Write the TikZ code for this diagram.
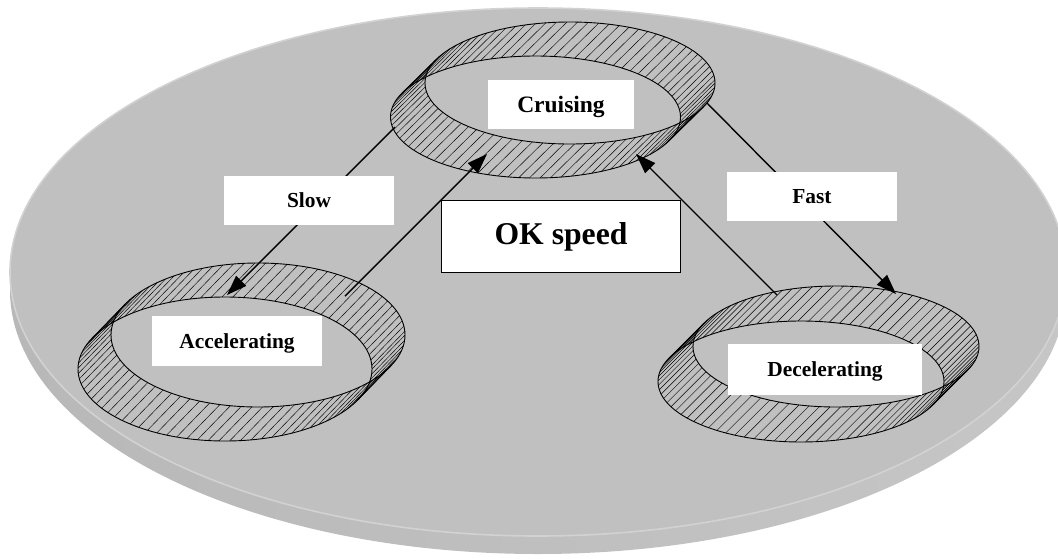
\documentclass[tikz,border=0pt]{standalone}
\usepackage{fontspec}
\setmainfont{Liberation Serif}
\usetikzlibrary{arrows.meta}
\definecolor{facegray}{HTML}{C0C0C0}
\definecolor{rimgray}{HTML}{D2D2D2}
\definecolor{sidegrayA}{HTML}{B8B8B8}
\definecolor{sidegrayB}{HTML}{A8A8A8}
\definecolor{sidegrayC}{HTML}{C6C6C6}
\newcommand{\ringshape}[6]{%
  \pgfmathsetmacro{\rtA}{atan2(-(#5)*(#4),(#3)*(#6))}%
  \foreach \t in {0,4.2,...,358}{%
    \draw[hatchline] ({#1+#3*cos(\t)},{#2+#4*sin(\t)}) -- ++(#5,#6);
  }%
  \draw[ringline] (#1,#2) ellipse [x radius=#3pt, y radius=#4pt];
  \draw[ringline] ({#1+(#5)},{#2+(#6)}) ellipse [x radius=#3pt, y radius=#4pt];
  \draw[ringline] ({#1+#3*cos(\rtA)},{#2+#4*sin(\rtA)}) -- ++(#5,#6);
  \draw[ringline] ({#1+#3*cos(\rtA+180)},{#2+#4*sin(\rtA+180)}) -- ++(#5,#6);
}
\begin{document}
\begin{tikzpicture}[x=1pt,y=-1pt,
  hatchline/.style={black, line width=0.45pt},
  ringline/.style={black, line width=0.9pt},
  arr/.style={black, line width=1.4pt, -{Triangle[length=20pt,width=14pt]}},
  lbl/.style={fill=white, inner sep=0pt, text height=14.2pt, text depth=0pt,
    font=\bfseries\fontsize{21.4}{24}\selectfont},
  okbox/.style={fill=white, draw=black, line width=1.5pt, inner sep=0pt,
    font=\bfseries\fontsize{31.7}{36}\selectfont}]
\useasboundingbox (0,0) rectangle (1058,558);
\clip (0,0) rectangle (1058,558);
% disk
\shade[left color=sidegrayA, middle color=sidegrayB, right color=sidegrayC]
  (538,290) ellipse [x radius=528pt, y radius=264pt];
\fill[facegray] (538,272) ellipse [x radius=528pt, y radius=264pt];
\draw[rimgray, line width=1.6pt] (538,272) ellipse [x radius=528pt, y radius=264pt];
% rings
\ringshape{570}{83}{145}{61}{-34.5}{34}
\ringshape{258}{335}{147}{72}{-33}{34}
\ringshape{836}{346.5}{143}{60.5}{-35}{35}
% connector end points
\coordinate (slowA) at (395,127);
\coordinate (slowB) at (227,295);
\coordinate (accA) at (345,296);
\coordinate (accB) at (487,154);
\coordinate (fastA) at (707,103);
\coordinate (fastB) at (896,294);
\coordinate (decA) at (777,295);
\coordinate (decB) at (636,154);
\draw[arr] (slowA) -- (slowB);
\draw[arr] (accA) -- (accB);
\draw[arr] (fastA) -- (fastB);
\draw[arr] (decA) -- (decB);
% labels
\node[lbl, minimum width=146pt, minimum height=49pt, text height=15.6pt,
  font=\bfseries\fontsize{23.5}{26}\selectfont] (cruising) at (561,104.5) {Cruising};
\node[lbl, minimum width=170pt, minimum height=50pt] (accel) at (237,341) {Accelerating};
\node[lbl, minimum width=194pt, minimum height=51pt] (decel) at (825,369.5) {Decelerating};
\node[lbl, minimum width=170pt, minimum height=49pt] (slow) at (309,200.5) {Slow};
\node[lbl, minimum width=170pt, minimum height=49pt] (fast) at (812,196.5) {Fast};
\node[okbox, minimum width=239pt, minimum height=72pt] (ok) at (561,236.5) {OK speed};
\end{tikzpicture}
\end{document}
